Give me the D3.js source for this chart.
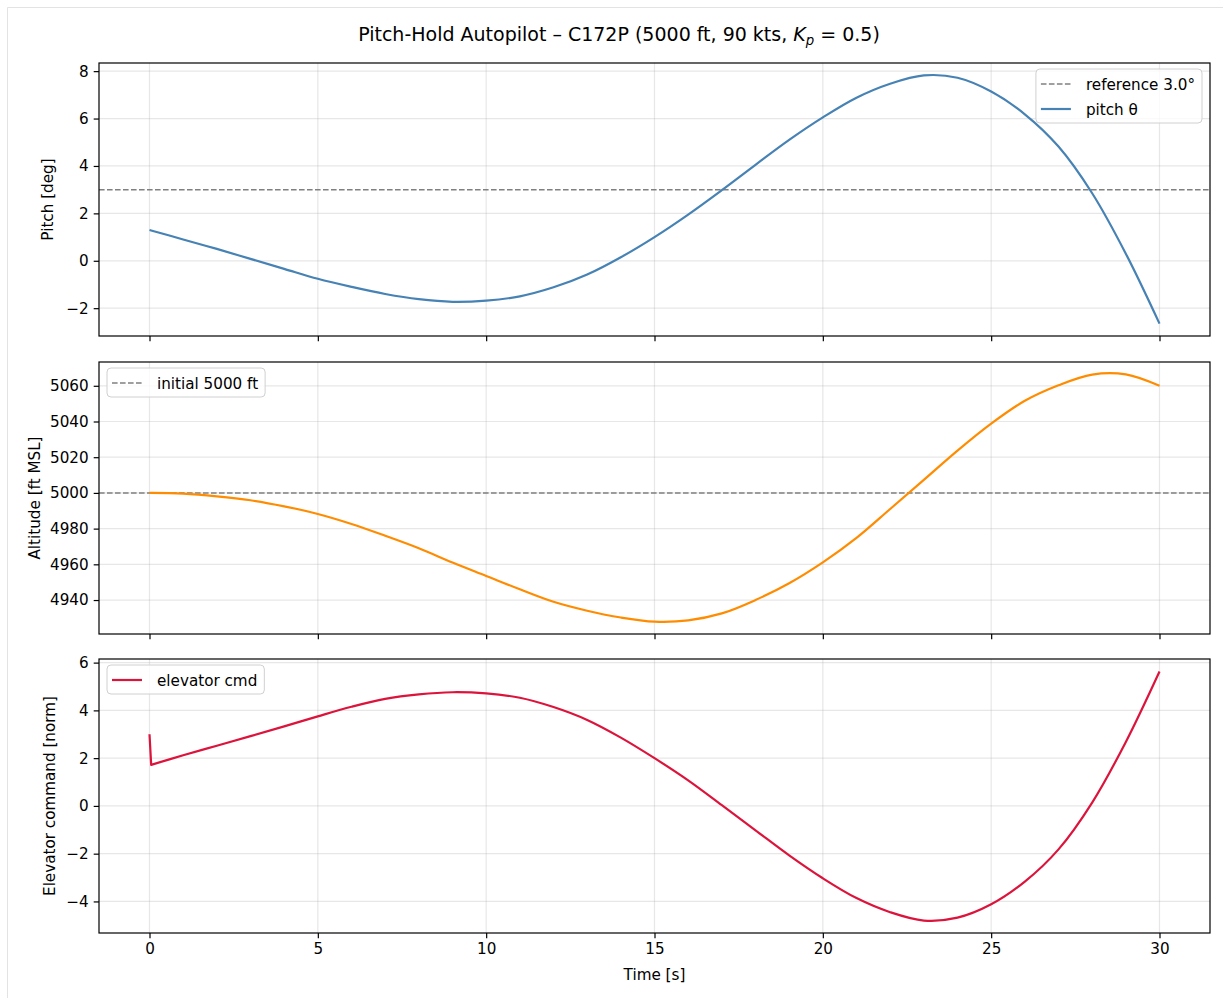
<!DOCTYPE html>
<html>
<head>
<meta charset="utf-8">
<script src="https://cdn.jsdelivr.net/npm/d3@7"></script>
<style>
  body { margin: 0; background: #fff; }
  svg { font-family: "DejaVu Sans", sans-serif; }
</style>
</head>
<body>
<div class="chart"></div>
<script>
// samples (s)
const time = [0, 0.05, 1, 2, 3, 4, 5, 6, 7, 8, 9, 10, 11, 12, 13, 14, 15,
  16, 17, 18, 19, 20, 21, 22, 23, 24, 25, 26, 27, 28, 29, 30];
const pitch = [1.30, 1.28, 0.90, 0.50, 0.08, -0.34, -0.76, -1.10, -1.40, -1.62, -1.73, -1.68,
  -1.50, -1.12, -0.58, 0.15, 1.00, 1.95, 2.98, 4.05, 5.10, 6.05, 6.88, 7.47, 7.82, 7.72, 7.14,
  6.18, 4.82, 2.85, 0.30, -2.65];
const altitude = [5000, 5000, 4999.6, 4998.1, 4995.9, 4992.5, 4988.2, 4982.6, 4976, 4969,
  4961, 4953.5, 4946, 4939, 4934, 4930.2, 4927.9, 4928.6, 4932.5, 4940, 4949.4, 4961.1, 4974.8,
  4991, 5007.3, 5023.7, 5038.8, 5051.6, 5060.3, 5066.3, 5066.4, 5060];
const elevator = [3.0, 1.72, 2.12, 2.52, 2.92, 3.33, 3.75, 4.15, 4.48, 4.67, 4.76, 4.71,
  4.53, 4.14, 3.60, 2.86, 2.00, 1.07, 0.03, -1.02, -2.07, -3.03, -3.86, -4.45, -4.80, -4.68,
  -4.12, -3.17, -1.82, 0.14, 2.68, 5.63];

const pitchRef = 3.0;
const altRef = 5000;

const xTicks = [0, 5, 10, 15, 20, 25, 30];
const pitchTicks = [-2, 0, 2, 4, 6, 8];
const altTicks = [4940, 4960, 4980, 5000, 5020, 5040, 5060];
const elevTicks = [-4, -2, 0, 2, 4, 6];

const W = 1223, H = 998;
const left = 99, right = 1210;
const fs = 15.2;

const svg = d3.select('.chart').append('svg')
  .attr('width', W).attr('height', H);

svg.append('path')
  .attr('d', `M7.5,${H} V7.5 H${W}`)
  .attr('fill', 'none').attr('stroke', '#e3e3e3');

svg.append('text')
  .attr('x', 619).attr('y', 41)
  .attr('text-anchor', 'middle')
  .attr('font-size', 19)
  .attr('fill', '#000')
  .call(t => {
    t.append('tspan').text('Pitch-Hold Autopilot \u2013 C172P (5000 ft, 90 kts, ');
    t.append('tspan').attr('font-style', 'italic').text('K');
    t.append('tspan').attr('font-style', 'italic').attr('font-size', 13.3).attr('dy', 3.6).text('p');
    t.append('tspan').attr('dy', -3.6).text(' = 0.5)');
  });

const x = d3.scaleLinear([-1.5, 31.5], [left, right]);
const fmt = v => String(v).replace('-', '\u2212');

function padded(vals) {
  const [lo, hi] = d3.extent(vals);
  const m = (hi - lo) * 0.05;
  return [lo - m, hi + m];
}

const panels = [
  { top: 63, bottom: 336, values: pitch, color: '#4682b4', ticks: pitchTicks,
    label: 'Pitch [deg]', labelX: 48, ref: pitchRef,
    legend: { pos: 'right', items: [['reference 3.0\u00b0', 'ref'], ['pitch \u03b8', 'line']] } },
  { top: 362, bottom: 634, values: altitude, color: '#ff8c00', ticks: altTicks,
    label: 'Altitude [ft MSL]', labelX: 35, ref: altRef,
    legend: { pos: 'left', items: [['initial 5000 ft', 'ref']] } },
  { top: 659, bottom: 933, values: elevator, color: '#dc143c', ticks: elevTicks,
    label: 'Elevator command [norm]', labelX: 50, ref: null,
    legend: { pos: 'left', items: [['elevator cmd', 'line']] } },
];

panels.forEach((p, i) => {
  const y = d3.scaleLinear(padded(p.values), [p.bottom, p.top]);
  const g = svg.append('g');

  // grid
  g.append('g').selectAll('line').data(xTicks).enter().append('line')
    .attr('x1', d => x(d)).attr('x2', d => x(d))
    .attr('y1', p.top).attr('y2', p.bottom)
    .attr('stroke', '#b0b0b0').attr('stroke-opacity', 0.3).attr('stroke-width', 1.2);
  g.append('g').selectAll('line').data(p.ticks).enter().append('line')
    .attr('x1', left).attr('x2', right)
    .attr('y1', d => y(d)).attr('y2', d => y(d))
    .attr('stroke', '#b0b0b0').attr('stroke-opacity', 0.3).attr('stroke-width', 1.2);

  if (p.ref !== null) {
    g.append('line')
      .attr('x1', left).attr('x2', right)
      .attr('y1', y(p.ref)).attr('y2', y(p.ref))
      .attr('stroke', '#808080').attr('stroke-width', 1.5)
      .attr('stroke-dasharray', '5.6,2.4');
  }

  // first step (t=0 -> first sample) straight, rest smoothed
  const pts = p.values.map((v, k) => [x(time[k]), y(v)]);
  const smooth = d3.line().curve(d3.curveCatmullRom.alpha(0.5))(pts.slice(1));
  const d = `M${pts[0][0]},${pts[0][1]}L` + smooth.slice(1);
  g.append('path')
    .attr('d', d)
    .attr('fill', 'none').attr('stroke', p.color).attr('stroke-width', 2.2)
    .attr('stroke-linejoin', 'round');

  // axes
  const yAxis = d3.axisLeft(y).tickValues(p.ticks).tickFormat(fmt).tickSize(5.3).tickPadding(5);
  const ya = g.append('g').attr('transform', `translate(${left},0)`).call(yAxis);
  const xAxis = d3.axisBottom(x).tickValues(xTicks).tickSize(5.3).tickPadding(4.5)
    .tickFormat(i === 2 ? fmt : () => '');
  const xa = g.append('g').attr('transform', `translate(0,${p.bottom})`).call(xAxis);
  [ya, xa].forEach(a => {
    a.select('.domain').remove();
    a.selectAll('line').attr('stroke', '#000').attr('stroke-width', 1.2);
    a.selectAll('text').attr('font-size', fs).attr('fill', '#000')
      .attr('font-family', '"DejaVu Sans", sans-serif');
  });

  g.append('rect')
    .attr('x', left).attr('y', p.top)
    .attr('width', right - left).attr('height', p.bottom - p.top)
    .attr('fill', 'none').attr('stroke', '#000').attr('stroke-width', 1.2);

  g.append('text')
    .attr('transform', `translate(${p.labelX},${(p.top + p.bottom) / 2}) rotate(-90)`)
    .attr('text-anchor', 'middle').attr('dy', '0.35em').attr('font-size', fs).text(p.label);

  // legend
  const lg = g.append('g');
  const rowH = 25;
  const items = p.legend.items;
  const tmp = lg.append('g');
  let maxW = 0;
  items.forEach(d => {
    const t = tmp.append('text').attr('font-size', fs).text(d[0]);
    maxW = Math.max(maxW, t.node().getComputedTextLength());
  });
  tmp.remove();
  const bw = 50 + maxW + 7;
  const bh = items.length * rowH + 4;
  const bx = p.legend.pos === 'right' ? right - 8 - bw : left + 8;
  const by = p.top + 6;
  lg.append('rect')
    .attr('x', bx).attr('y', by).attr('width', bw).attr('height', bh)
    .attr('rx', 4).attr('fill', '#fff').attr('fill-opacity', 0.8)
    .attr('stroke', '#d0d0d0').attr('stroke-width', 1);
  items.forEach((it, k) => {
    const cy = by + 15 + k * rowH;
    const isRef = it[1] === 'ref';
    lg.append('line')
      .attr('x1', bx + 5).attr('x2', bx + 35).attr('y1', cy).attr('y2', cy)
      .attr('stroke', isRef ? '#808080' : p.color)
      .attr('stroke-width', isRef ? 1.5 : 2.2)
      .attr('stroke-dasharray', isRef ? '5.6,2.4' : null);
    lg.append('text')
      .attr('x', bx + 50).attr('y', cy + 5.5)
      .attr('font-size', fs).text(it[0]);
  });
});

svg.append('text')
  .attr('x', x(15)).attr('y', 980)
  .attr('text-anchor', 'middle').attr('font-size', fs).text('Time [s]');
</script>
</body>
</html>
